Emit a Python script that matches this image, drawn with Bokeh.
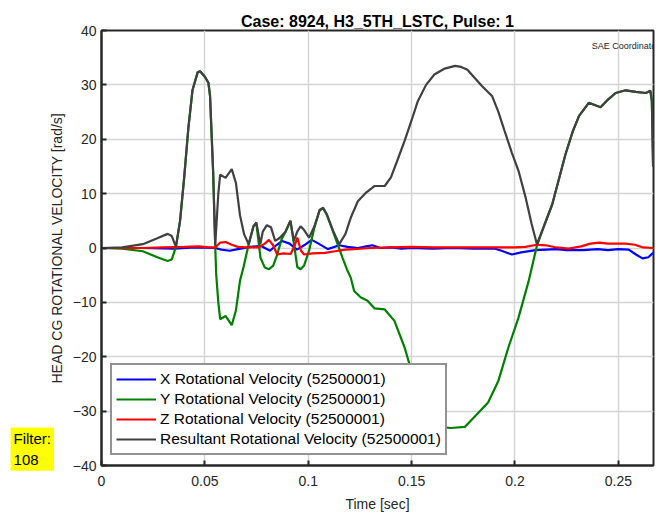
from bokeh.plotting import figure
from bokeh.embed import file_html
from bokeh.resources import INLINE
from bokeh.models import FixedTicker, Label, Range1d

# ---- data ----
res_t = [0.000, 0.010, 0.020, 0.027, 0.032, 0.034, 0.036, 0.038, 0.040, 0.042, 0.044, 0.0465, 0.0477,
         0.050, 0.0517, 0.0525, 0.054, 0.0550, 0.0565, 0.0574, 0.060, 0.063, 0.065, 0.067, 0.069, 0.0712,
         0.0735, 0.0749, 0.0768, 0.078, 0.080, 0.082, 0.084, 0.086, 0.089, 0.0914, 0.093, 0.0947, 0.0963,
         0.098, 0.1004, 0.103, 0.1055, 0.1072, 0.109, 0.112, 0.115, 0.118, 0.1206, 0.124, 0.128, 0.132,
         0.137, 0.140, 0.143, 0.1466, 0.150, 0.153, 0.157, 0.161, 0.166, 0.171, 0.174, 0.177, 0.180, 0.184,
         0.189, 0.192, 0.195, 0.1985, 0.2017, 0.205, 0.208, 0.2106, 0.214, 0.218, 0.2244, 0.228, 0.231,
         0.2357, 0.2414, 0.245, 0.2487, 0.2535, 0.2585, 0.2633, 0.2655, 0.2662, 0.2668]
res_v = [0.0, 0.1, 0.7, 1.8, 2.6, 2.2, 0.2, 5.0, 13.0, 22.0, 29.0, 32.3, 32.5,
         31.5, 30.4, 28.0, 14.0, 0.5, 10.0, 13.5, 12.9, 14.5, 12.0, 6.0, 2.5, 0.7,
         4.0, 4.7, 0.7, 3.0, 4.2, 3.8, 1.3, 1.8, 3.0, 5.0, 1.3, 3.0, 4.0,
         3.3, 1.9, 4.0, 7.0, 7.4, 6.2, 3.2, 0.7, 2.6, 5.6, 8.6, 10.2, 11.4,
         11.4, 13.0, 16.0, 19.7, 23.5, 27.0, 30.0, 31.9, 33.0, 33.5, 33.3, 32.8, 31.5, 29.8,
         27.9, 25.0, 21.5, 17.5, 14.2, 9.5, 4.5, 0.7, 4.0, 8.0, 17.2, 21.5, 24.3,
         26.7, 25.9, 27.3, 28.5, 29.0, 28.7, 28.5, 28.9, 27.0, 15.0]

y_t = [0.000, 0.010, 0.020, 0.027, 0.032, 0.034, 0.036, 0.038, 0.040, 0.042, 0.044, 0.0465, 0.0477,
       0.050, 0.0517, 0.0525, 0.054, 0.0550, 0.0555, 0.0565, 0.0574, 0.060, 0.063, 0.065, 0.067, 0.0687,
       0.0712, 0.0735, 0.0749, 0.0769, 0.079, 0.081, 0.083, 0.085, 0.087, 0.089, 0.0914, 0.093, 0.0947,
       0.0963, 0.098, 0.1004, 0.103, 0.1055, 0.1072, 0.109, 0.112, 0.1166, 0.119, 0.1206, 0.1222, 0.1255,
       0.1287, 0.132, 0.137, 0.1417, 0.1466, 0.149, 0.153, 0.157, 0.161, 0.166, 0.169, 0.1757, 0.1815,
       0.187, 0.192, 0.1968, 0.2017, 0.2066, 0.2106, 0.214, 0.218, 0.2244, 0.228, 0.231, 0.2357, 0.2414,
       0.245, 0.2487, 0.2535, 0.2585, 0.2633, 0.2655, 0.2662, 0.2668]
y_v = [0.0, -0.1, -0.6, -1.7, -2.4, -2.1, 0.2, 5.0, 13.0, 22.0, 29.0, 32.3, 32.5,
       31.5, 30.4, 28.0, 14.0, 0.5, -5.0, -10.0, -13.1, -12.5, -14.2, -11.5, -6.0, -3.5,
       0.7, 4.0, 4.5, -1.8, -3.6, -3.9, -3.3, -1.2, 1.5, 3.0, 5.0, 1.0, -3.5,
       -3.9, -3.2, -0.5, 3.8, 6.9, 7.3, 6.1, 3.0, -1.8, -4.2, -5.5, -7.9, -9.1,
       -9.7, -11.1, -11.3, -13.4, -18.3, -21.4, -26.5, -30.0, -31.8, -33.0, -33.1, -32.9, -30.6,
       -28.4, -24.4, -18.3, -12.8, -6.1, 0.4, 4.0, 8.0, 17.2, 21.5, 24.3, 26.7, 25.9,
       27.3, 28.5, 29.0, 28.7, 28.5, 28.9, 27.0, 15.0]

x_t = [0.000, 0.020, 0.035, 0.045, 0.055, 0.058, 0.062, 0.066, 0.072, 0.077, 0.0815, 0.0845, 0.0874,
       0.091, 0.0945, 0.098, 0.1017, 0.105, 0.1095, 0.115, 0.119, 0.124, 0.128, 0.131, 0.135, 0.140,
       0.145, 0.150, 0.160, 0.170, 0.180, 0.190, 0.1935, 0.1985, 0.203, 0.210, 0.220, 0.225, 0.233,
       0.240, 0.245, 0.250, 0.255, 0.2585, 0.2617, 0.2645, 0.2668]
x_v = [0.0, 0.0, -0.1, 0.1, 0.0, -0.3, -0.5, -0.2, 0.2, 0.4, -0.5, 0.5, 1.3,
       0.8, -0.3, 0.5, 1.5, 0.8, -0.2, 0.5, 0.2, 0.0, 0.3, 0.5, 0.0, 0.1,
       -0.1, 0.0, -0.1, 0.0, -0.1, -0.1, -0.5, -1.2, -0.8, -0.4, -0.2, -0.4, -0.4,
       -0.2, -0.4, -0.2, -0.3, -1.2, -1.9, -1.7, -0.9]

z_t = [0.000, 0.020, 0.030, 0.040, 0.047, 0.052, 0.055, 0.0574, 0.060, 0.063, 0.066, 0.070, 0.076,
       0.079, 0.081, 0.083, 0.085, 0.088, 0.0915, 0.0935, 0.0947, 0.0965, 0.098, 0.102, 0.108, 0.113,
       0.118, 0.122, 0.130, 0.140, 0.150, 0.160, 0.170, 0.180, 0.190, 0.200, 0.205, 0.2106, 0.215,
       0.220, 0.226, 0.232, 0.2365, 0.2406, 0.245, 0.2535, 0.258, 0.262, 0.2668]
z_v = [0.0, 0.0, 0.1, 0.2, 0.3, 0.1, 0.1, 1.0, 1.1, 0.6, 0.2, 0.1, 0.1,
       0.8, 1.5, 0.5, -1.2, -1.0, -1.1, 0.5, 1.9, -0.5, -1.2, -1.0, -0.9, -0.6,
       -0.3, -0.2, 0.0, 0.1, 0.2, 0.1, 0.1, 0.1, 0.1, 0.1, 0.2, 0.6, 0.5,
       0.1, -0.1, 0.3, 0.8, 1.0, 0.8, 0.8, 0.6, 0.1, 0.0]

x_ticks = [0, 0.05, 0.1, 0.15, 0.2, 0.25]
x_tick_labels = ["0", "0.05", "0.1", "0.15", "0.2", "0.25"]
y_ticks = [-40, -30, -20, -10, 0, 10, 20, 30, 40]

labels = ["X Rotational Velocity (52500001)", "Y Rotational Velocity (52500001)",
          "Z Rotational Velocity (52500001)", "Resultant Rotational Velocity (52500001)"]
colors = ["#0000ff", "#008000", "#ff0000", "#404040"]

FONT = "Liberation Sans"
TXT = "#262626"

p = figure(width=658, height=517, output_backend="svg", toolbar_location=None,
           x_range=Range1d(0, 0.267), y_range=Range1d(-40, 40))
p.min_border_left = 101
p.min_border_top = 30
p.min_border_right = 5
p.min_border_bottom = 52
p.background_fill_color = "white"
p.border_fill_color = "white"
p.outline_line_color = TXT
p.outline_line_width = 2

p.title.text = "Case: 8924, H3_5TH_LSTC, Pulse: 1"
p.title.text_font = FONT
p.title.text_font_size = "16px"
p.title.text_font_style = "bold"
p.title.text_color = "#000000"
p.title.align = "center"
p.title.standoff = 2

p.line(x_t, x_v, color=colors[0], line_width=2.2, legend_label=labels[0])
p.line(y_t, y_v, color=colors[1], line_width=2.2, legend_label=labels[1])
p.line(z_t, z_v, color=colors[2], line_width=2.2, legend_label=labels[2])
p.line(res_t, res_v, color=colors[3], line_width=2.2, legend_label=labels[3])

xa = p.xaxis[0]
xa.ticker = FixedTicker(ticks=x_ticks)
xa.major_label_overrides = {t: s for t, s in zip(x_ticks, x_tick_labels)}
ya = p.yaxis[0]
ya.ticker = FixedTicker(ticks=y_ticks)

for ax in (xa, ya):
    ax.major_tick_in = 5
    ax.major_tick_out = 0
    ax.minor_tick_in = 0
    ax.minor_tick_out = 0
    ax.axis_line_color = TXT
    ax.axis_line_width = 2
    ax.major_tick_line_color = TXT
    ax.major_tick_line_width = 2
    ax.major_label_text_font = FONT
    ax.major_label_text_font_size = "14px"
    ax.major_label_text_color = TXT
    ax.axis_label_text_font = FONT
    ax.axis_label_text_font_size = "14px"
    ax.axis_label_text_font_style = "normal"
    ax.axis_label_text_color = TXT
xa.axis_label = "Time [sec]"
xa.major_label_standoff = 10
xa.axis_label_standoff = 7
ya.axis_label = "HEAD CG ROTATIONAL VELOCITY [rad/s]"
ya.major_label_standoff = 5
ya.axis_label_standoff = 5

p.xgrid.ticker = FixedTicker(ticks=x_ticks)
p.ygrid.ticker = FixedTicker(ticks=y_ticks)
p.grid.grid_line_color = "#d4d4d4"
p.grid.grid_line_width = 1.5

p.add_layout(Label(x=0.2371, y=37.2, text="SAE Coordinate", text_font=FONT,
                   text_font_size="9px", text_color=TXT, text_baseline="middle"))
# "Filter" box, left of the plot frame: placed in the left side panel so it is not clipped
p.add_layout(Label(x=-0.0440, y=-33.0, text="Filter:\n108", text_font=FONT,
                   text_font_size="15px", text_color="#000000", text_baseline="top",
                   text_align="left", background_fill_color="#ffff00", padding=3), "left")

lg = p.legend[0]
lg.location = (9, 10)
lg.border_line_color = TXT
lg.border_line_width = 2
lg.background_fill_color = "white"
lg.background_fill_alpha = 1
lg.label_text_font = FONT
lg.label_text_font_size = "15.5px"
lg.label_text_color = "#000000"
lg.glyph_width = 40
lg.glyph_height = 20
lg.label_height = 20
lg.label_standoff = 4
lg.padding = 4
lg.spacing = 0
lg.margin = 0

open("out.html", "w").write(file_html(p, INLINE))
